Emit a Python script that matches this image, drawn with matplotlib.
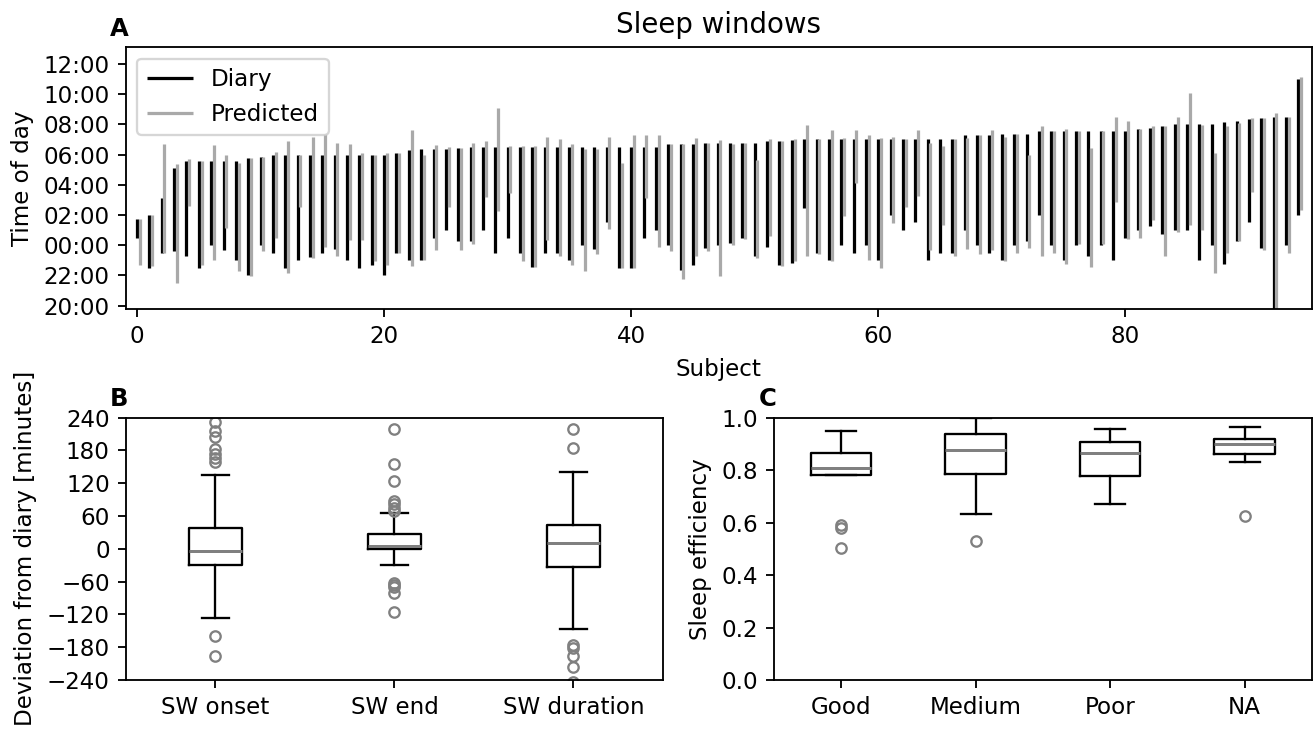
import matplotlib
matplotlib.use("Agg")
import matplotlib.pyplot as plt

# sleep windows per subject, hours relative to midnight (negative = previous evening)
diary_end = [1.75, 2.0, 3.1, 5.12, 5.55, 5.55, 5.55, 5.55, 5.55, 5.79,
             5.83, 6.0, 6.0, 6.0, 6.0, 6.0, 6.0, 6.0, 6.0, 6.0,
             6.0, 6.1, 6.28, 6.38, 6.38, 6.38, 6.45, 6.53, 6.53, 6.53,
             6.53, 6.53, 6.53, 6.53, 6.53, 6.53, 6.53, 6.53, 6.53, 6.53,
             6.53, 6.53, 6.53, 6.67, 6.67, 6.67, 6.76, 6.76, 6.76, 6.76,
             6.76, 6.9, 6.9, 6.93, 7.0, 7.0, 7.0, 7.0, 7.0, 7.0,
             7.0, 7.0, 7.0, 7.0, 7.0, 7.0, 7.04, 7.27, 7.27, 7.27,
             7.33, 7.33, 7.33, 7.53, 7.53, 7.53, 7.53, 7.53, 7.53, 7.53,
             7.53, 7.66, 7.77, 7.86, 8.0, 8.0, 8.0, 8.0, 8.14, 8.25,
             8.32, 8.42, 8.47, 8.47, 11.0]
diary_onset = [0.5, -1.5, -0.5, -0.41, -0.75, -1.5, 0.0, -0.3, -1.0, -2.0,
               0.0, -0.5, -1.5, -1.0, -0.78, -0.5, -0.25, -1.0, -1.5, -1.35,
               -2.0, -0.5, -1.0, -1.0, 0.5, 1.0, 0.25, 0.25, 1.0, -0.5,
               0.5, -0.5, -1.44, -0.5, -0.5, -1.0, 0.0, -0.25, 1.5, -1.5,
               -1.5, 0.5, 1.0, 0.0, -1.66, -1.33, -0.19, 0.0, 0.13, 0.5,
               -0.75, -0.12, -1.29, -1.18, 2.44, -0.5, -1.0, 0.0, -0.5, 0.0,
               -1.0, 2.0, 1.0, 1.5, -1.0, -0.5, -0.5, 1.0, 0.0, -0.5,
               -1.0, 0.0, 0.25, 2.0, 0.0, -1.0, 0.0, -0.75, 0.0, -1.0,
               0.5, 1.0, 1.25, 0.75, 1.0, 1.0, -1.0, 0.0, -1.22, 0.25,
               1.5, -0.19, -6.0, 0.0, 2.0]
pred_end = [1.71, 2.0, 6.67, 5.35, 5.72, 5.55, 6.61, 6.0, 5.44, 5.79,
            5.83, 6.17, 6.87, 6.0, 7.16, 7.33, 6.76, 6.67, 6.1, 6.0,
            6.1, 6.1, 7.59, 6.0, 6.61, 6.5, 6.45, 6.76, 6.87, 9.06,
            6.54, 6.54, 6.54, 7.16, 7.0, 6.67, 6.38, 6.38, 7.16, 5.44,
            7.27, 7.27, 7.27, 6.67, 6.67, 7.09, 6.76, 6.93, 6.67, 6.76,
            5.62, 7.0, 6.9, 7.0, 7.98, 7.0, 7.59, 7.09, 7.59, 7.27,
            7.09, 7.16, 7.0, 7.59, 6.76, 6.54, 7.04, 7.11, 7.31, 7.59,
            7.16, 7.33, 6.0, 7.92, 7.53, 7.66, 7.53, 6.43, 7.53, 8.47,
            8.25, 7.66, 7.86, 7.92, 8.47, 10.07, 7.98, 6.1, 7.86, 8.07,
            8.4, 8.42, 8.76, 8.47, 11.14]
pred_onset = [-1.35, -1.4, -0.52, -2.5, 2.61, -1.29, -1.0, 1.12, -1.72, -2.05,
              -0.41, 0.47, -1.84, 2.55, -0.85, -0.12, -0.74, 0.31, 0.31, -1.06,
              -1.35, -0.52, -1.4, -1.0, -0.35, 2.55, -0.35, 0.09, 3.2, 2.28,
              3.43, -1.06, -1.44, 0.36, -0.74, -1.33, -1.72, -0.58, 1.05, -1.51,
              -1.51, 3.1, -0.12, -0.41, -2.27, -0.74, -0.41, -2.05, -0.01, 0.4,
              -0.85, 0.58, -1.4, -1.06, -0.74, -0.56, -1.06, 1.96, 4.09, -1.0,
              -1.51, 1.46, 2.55, 3.27, -0.35, 1.34, -0.69, -0.26, -0.56, -0.35,
              -1.06, -0.52, -0.19, -0.69, -0.52, -1.22, 0.07, -1.44, 0.09, 2.88,
              0.4, 0.47, 1.67, -0.74, 0.84, 1.34, 0.97, -1.88, -0.52, 0.25,
              3.54, -0.35, -6.0, -0.52, 2.33]
time_ticks = [-4, -2, 0, 2, 4, 6, 8, 10, 12]
time_labels = ['20:00', '22:00', '00:00', '02:00', '04:00', '06:00', '08:00', '10:00', '12:00']

# panel B: deviation from diary [minutes]
b_labels = ['SW onset', 'SW end', 'SW duration']
b_med = [-4.5, 6, 11]
b_q1 = [-30, -0.5, -33]
b_q3 = [37.5, 28, 43]
b_whislo = [-126, -30, -146]
b_whishi = [135.5, 65.5, 140]
b_fliers = [[232, 215, 205, 182, 174, 166, 159, -160, -196],
            [220, 155, 125, 87, 82, 75, 70, -63, -66, -70, -81, -116],
            [220, 184, -176, -181, -196, -216, -243]]

# panel C: sleep efficiency by sleep quality
c_labels = ['Good', 'Medium', 'Poor', 'NA']
c_med = [0.807, 0.875, 0.865, 0.898]
c_q1 = [0.781, 0.784, 0.776, 0.860]
c_q3 = [0.864, 0.938, 0.906, 0.917]
c_whislo = [0.781, 0.632, 0.670, 0.831]
c_whishi = [0.949, 0.997, 0.956, 0.966]
c_fliers = [[0.59, 0.58, 0.505], [0.53], [], [0.626]]


def make_stats(labels, med, q1, q3, lo, hi, fliers):
    return [dict(label=l, med=m, q1=a, q3=b, whislo=w0, whishi=w1, fliers=f)
            for l, m, a, b, w0, w1, f in zip(labels, med, q1, q3, lo, hi, fliers)]


def draw_boxes(ax, stats):
    ax.bxp(stats,
           boxprops=dict(color='black', linewidth=1.0),
           whiskerprops=dict(color='black', linewidth=1.0),
           capprops=dict(color='black', linewidth=1.0),
           medianprops=dict(color='gray', linewidth=1.3),
           flierprops=dict(marker='o', markerfacecolor='none', markeredgecolor='gray',
                           markersize=4.5))


def generate_plot() -> None:
    dpi = 166
    fig = plt.figure(figsize=(1316 / dpi, 731 / dpi), dpi=dpi)

    ax_a = fig.add_axes([0.0957, 0.5769, 0.9012, 0.3584])
    ax_b = fig.add_axes([0.0957, 0.0698, 0.4081, 0.3588])
    ax_c = fig.add_axes([0.5881, 0.0698, 0.4088, 0.3588])

    subjects = list(range(len(diary_end)))
    ax_a.vlines(subjects, diary_onset, diary_end, color='black', linewidth=1.4, label='Diary')
    ax_a.vlines([s + 0.22 for s in subjects], pred_onset, pred_end, color='darkgray',
                linewidth=1.4, label='Predicted')
    ax_a.set_xlim(-0.9, 95.1)
    ax_a.set_ylim(-4.25, 13.1)
    ax_a.set_yticks(time_ticks)
    ax_a.set_yticklabels(time_labels)
    ax_a.set_xlabel('Subject')
    ax_a.set_ylabel('Time of day')
    ax_a.set_title('Sleep windows', fontsize=12)
    ax_a.legend(loc='upper left')

    draw_boxes(ax_b, make_stats(b_labels, b_med, b_q1, b_q3, b_whislo, b_whishi, b_fliers))
    ax_b.set_ylim(-240, 240)
    ax_b.set_yticks(range(-240, 241, 60))
    ax_b.set_ylabel('Deviation from diary [minutes]')

    draw_boxes(ax_c, make_stats(c_labels, c_med, c_q1, c_q3, c_whislo, c_whishi, c_fliers))
    ax_c.set_ylim(0, 1)
    ax_c.set_ylabel('Sleep efficiency')

    fig.text(0.0836, 0.9508, 'A', fontsize=10.5, fontweight='bold')
    fig.text(0.0836, 0.444, 'B', fontsize=10.5, fontweight='bold')
    fig.text(0.5768, 0.444, 'C', fontsize=10.5, fontweight='bold')

    fig.savefig('out.png', dpi=dpi)


if __name__ == '__main__':
    generate_plot()
